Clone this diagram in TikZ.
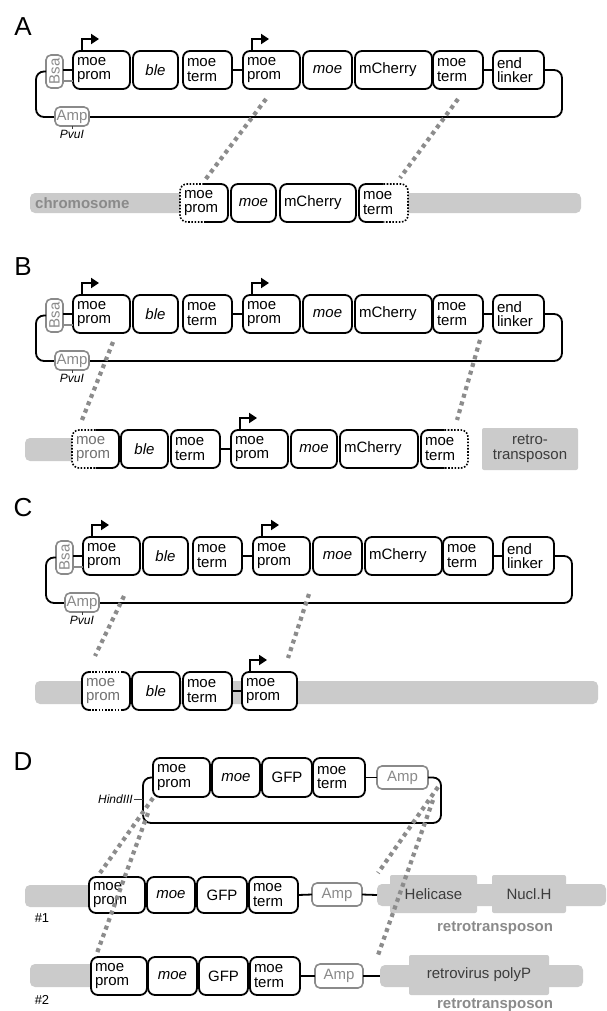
\documentclass[tikz,border=0pt]{standalone}
\usepackage{fontspec}
\setmainfont{Liberation Sans}
\usetikzlibrary{arrows.meta,calc}
\definecolor{gline}{HTML}{8A8A8A}
\definecolor{chromfill}{HTML}{CBCBCB}
\definecolor{dotcol}{HTML}{8C8C8C}
\definecolor{dtext}{HTML}{3C3C3C}
\definecolor{ptext}{HTML}{707070}
\tikzset{
 part/.style={draw=black,line width=1.8pt,rounded corners=7pt,fill=white,inner xsep=3pt,inner ysep=2pt,outer sep=0pt,font=\fontsize{15}{14.5}\selectfont,align=left},
 gpart/.style={draw=gline,text=gline,line width=1.6pt,rounded corners=5pt,fill=white,inner sep=1pt,outer sep=0pt,font=\fontsize{15}{14.5}\selectfont,align=center},
 link/.style={line width=1.8pt,draw=black},
 glink/.style={line width=1.4pt,draw=gline},
 tick/.style={line width=0.9pt,draw=dtext},
 dotcon/.style={draw=dotcol,line width=4.2pt,dash pattern=on 4pt off 4pt},
 dotb/.style={draw=black,line width=1.6pt,dash pattern=on 1.6pt off 1.6pt},
 prarrow/.style={line width=1.8pt,-{Triangle[length=8pt,width=10pt]}},
 panel/.style={font=\fontsize{26}{26}\selectfont,inner sep=0pt},
 small/.style={font=\fontsize{12}{12}\selectfont\itshape,inner sep=1pt},
 bar/.style={fill=chromfill,draw=none,rounded corners=5pt,outer sep=0pt,inner sep=0pt},
 block/.style={fill=chromfill,draw=none,rounded corners=2pt,outer sep=0pt,inner sep=0pt,text=dtext,font=\fontsize{15}{15}\selectfont,align=center},
 glabel/.style={text=gline,font=\fontsize{15}{15}\selectfont\bfseries,inner sep=0pt},
 num/.style={font=\fontsize{13}{13}\selectfont,inner sep=0pt},
}
% part box: [options]{name}{x1}{x2}{y1}{y2}{text}
\newcommand\pbox[7][]{%
 \pgfmathsetmacro\bw{#4-#3}\pgfmathsetmacro\bh{#6-#5}\pgfmathsetmacro\tw{#4-#3-8}%
 \pgfmathsetmacro\cx{(#3+#4)/2}\pgfmathsetmacro\cy{(#5+#6)/2}%
 \node[part,minimum width=\bw pt,minimum height=\bh pt,text width=\tw pt,#1] (#2) at (\cx,\cy) {#7};}
\newcommand\rbox[7][]{%
 \pgfmathsetmacro\bw{#4-#3}\pgfmathsetmacro\bh{#6-#5}%
 \pgfmathsetmacro\cx{(#3+#4)/2}\pgfmathsetmacro\cy{(#5+#6)/2}%
 \node[minimum width=\bw pt,minimum height=\bh pt,#1] (#2) at (\cx,\cy) {#7};}
\newcommand\dotleft[1]{%
 \draw[link,rounded corners=7pt] (#1.north) -| (#1.east) |- (#1.south);
 \draw[dotb,rounded corners=7pt] (#1.north) -| (#1.west) |- (#1.south);}
\newcommand\dotright[1]{%
 \draw[link,rounded corners=7pt] (#1.north) -| (#1.west) |- (#1.south);
 \draw[dotb,rounded corners=7pt] (#1.north) -| (#1.east) |- (#1.south);}
\newcommand\dottopbot[1]{%
 \draw[link,rounded corners=7pt] ($(#1.north west)+(7,0)$) -| (#1.west) |- ($(#1.south west)+(7,0)$);
 \draw[link,rounded corners=7pt] ($(#1.north east)+(-7,0)$) -| (#1.east) |- ($(#1.south east)+(-7,0)$);
 \draw[dotb] ($(#1.north west)+(7,0)$) -- ($(#1.north east)+(-7,0)$);
 \draw[dotb] ($(#1.south west)+(7,0)$) -- ($(#1.south east)+(-7,0)$);}
\newcommand\plasmid[1]{%
 \pbox{#1P1}{73}{130}{51}{89}{moe\\prom}
 \pbox[align=center]{#1B}{133}{178}{51}{89}{\textit{ble}}
 \pbox{#1T1}{183}{232}{51}{89}{moe\\term}
 \pbox{#1P2}{243}{300}{51}{89}{moe\\prom}
 \pbox[align=center]{#1M}{303}{352}{51}{89}{\textit{moe}}
 \pbox{#1C}{355}{432}{51}{89}{mCherry}
 \pbox{#1T2}{433}{483}{51}{89}{moe\\term}
 \pbox{#1E}{493}{544}{51}{89}{end\\linker}
 \rbox[gpart]{#1Bsa}{46}{63}{55}{88}{\rotatebox{90}{Bsa}}
 \draw[link] (#1T1.east) -- (#1P2.west);
 \draw[link] (#1T2.east) -- (#1E.west);
 \draw[link] (#1Bsa.east |- #1P1.west) -- (#1P1.west);
 \draw[glink] ($(#1Bsa.east |- #1P1.west)+(0,11)$) -- ($(#1P1.west)+(0,11)$);
 \draw[link,rounded corners=8pt] (#1E.east) -| (562,117) -| (36,71.5) -- (#1Bsa.west);
 \rbox[gpart]{#1Amp}{55}{89}{107}{126}{Amp}
 \node[small] (#1Pv) at (72,134) {PvuI};
 \draw[tick] (#1Amp.south) -- (#1Pv.north);
 \draw[prarrow] ($(#1P1.north west)+(9,0)$) -- ++(0,-12) -- ++(17,0);
 \draw[prarrow] ($(#1P2.north west)+(9,0)$) -- ++(0,-12) -- ++(17,0);
}
\begin{document}
\begin{tikzpicture}[x=1pt,y=-1pt]
\useasboundingbox (0,0) rectangle (606,1011);
\fill[white] (0,0) rectangle (606,1011);
% ---------------- A
\node[panel] (labA) at (23,27) {A};
\plasmid{a}
\rbox[bar]{aBarL}{30}{200}{193}{213}{}
\rbox[bar]{aBarR}{390}{581}{193}{213}{}
\node[glabel,anchor=west] (aChr) at (35,203) {chromosome};
\pbox[draw=none]{aCP}{180}{228}{184}{222}{moe\\prom}
\dotleft{aCP}
\pbox[align=center]{aCM}{231}{276}{184}{222}{\textit{moe}}
\pbox{aCC}{280}{356}{184}{222}{mCherry}
\pbox[draw=none]{aCT}{359}{408}{184}{222}{moe\\term}
\dotright{aCT}
\coordinate (aD1s) at (266,99); \coordinate (aD1e) at (205,180);
\coordinate (aD2s) at (458,99); \coordinate (aD2e) at (400,178);
\draw[dotcon] (aD1s) -- (aD1e);
\draw[dotcon] (aD2s) -- (aD2e);
% ---------------- B
\node[panel] (labB) at (23,267) {B};
\begin{scope}[shift={(0,244)}]
\plasmid{b}
\end{scope}
\rbox[bar]{bBar}{25}{90}{438}{461}{}
\pbox[draw=none,text=ptext]{bP1}{72}{119}{430}{468}{moe\\prom}
\dotleft{bP1}
\pbox[align=center]{bBl}{121}{168}{430}{468}{\textit{ble}}
\pbox{bT1}{171}{220}{430}{468}{moe\\term}
\pbox{bP2}{231}{288}{430}{468}{moe\\prom}
\pbox[align=center]{bMo}{291}{337}{430}{468}{\textit{moe}}
\pbox{bCh}{340}{418}{430}{468}{mCherry}
\pbox[draw=none]{bT2}{421}{468}{430}{468}{moe\\term}
\dotright{bT2}
\rbox[block]{bRetro}{482}{578}{428}{470}{retro-\\transposon}
\draw[link] (bT1.east) -- (bP2.west);
\draw[prarrow] ($(bP2.north west)+(9,0)$) -- ++(0,-12) -- ++(17,0);
\coordinate (bD1s) at (113,342); \coordinate (bD1e) at (82,420);
\coordinate (bD2s) at (480,340); \coordinate (bD2e) at (457,420);
\draw[dotcon] (bD1s) -- (bD1e);
\draw[dotcon] (bD2s) -- (bD2e);
% ---------------- C
\node[panel] (labC) at (23,508) {C};
\begin{scope}[shift={(10,486)}]
\plasmid{c}
\end{scope}
\rbox[bar]{cBar}{35}{598}{681}{704}{}
\pbox[draw=none,text=ptext]{cP1}{82}{130}{672}{710}{moe\\prom}
\dottopbot{cP1}
\pbox[align=center]{cBl}{132}{180}{672}{710}{\textit{ble}}
\pbox{cT}{183}{232}{672}{710}{moe\\term}
\pbox{cP2}{242}{297}{672}{710}{moe\\prom}
\draw[link] (cT.east) -- (cP2.west);
\draw[prarrow] ($(cP2.north west)+(8,0)$) -- ++(0,-12) -- ++(17,0);
\coordinate (cD1s) at (124,596); \coordinate (cD1e) at (95,656);
\coordinate (cD2s) at (309,594); \coordinate (cD2e) at (288,658);
\draw[dotcon] (cD1s) -- (cD1e);
\draw[dotcon] (cD2s) -- (cD2e);
% ---------------- D
\node[panel] (labD) at (23,762) {D};
\pbox{dP}{153}{210}{758}{797}{moe\\prom}
\pbox[align=center]{dM}{212}{260}{758}{797}{\textit{moe}}
\pbox[align=center]{dG}{262}{312}{758}{797}{GFP}
\pbox{dT}{313}{365}{758}{797}{moe\\term}
\rbox[gpart]{dAmp}{377}{428}{766}{789}{Amp}
\draw[link] (dT.east) -- (dAmp.west);
\draw[link,rounded corners=8pt] (dP.west) -| (143,823) -| (441,777.5) -- (dAmp.east);
\node[small,anchor=east] (hind) at (134,799) {HindIII};
\coordinate (hindT) at (143,799);
\draw[tick] (hind.east) -- (hindT);
% row 1
\rbox[bar]{r1BarL}{25}{100}{885}{907}{}
\pbox{r1P}{89}{145}{877}{913}{moe\\prom}
\pbox[align=center]{r1M}{147}{195}{877}{913}{\textit{moe}}
\pbox[align=center]{r1G}{197}{247}{877}{913}{GFP}
\pbox{r1T}{249}{298}{877}{913}{moe\\term}
\rbox[gpart]{r1Amp}{312}{362}{883}{906}{Amp}
\rbox[bar]{r1Bar}{377}{606}{884}{906}{}
\rbox[block]{r1Hel}{390}{477}{875}{913}{Helicase}
\rbox[block]{r1Nuc}{492}{566}{875}{913}{Nucl.H}
\draw[link] (r1T.east) -- (r1Amp.west);
\draw[link] (r1Amp.east) -- (r1Bar.west);
\node[num] (n1) at (42,918) {\#1};
\node[glabel] (rt1) at (495,928) {retrotransposon};
% row 2
\rbox[bar]{r2BarL}{30}{100}{964}{987}{}
\pbox{r2P}{91}{147}{957}{995}{moe\\prom}
\pbox[align=center]{r2M}{148}{197}{957}{995}{\textit{moe}}
\pbox[align=center]{r2G}{199}{248}{957}{995}{GFP}
\pbox{r2T}{250}{300}{957}{995}{moe\\term}
\rbox[gpart]{r2Amp}{315}{363}{964}{988}{Amp}
\rbox[bar]{r2Bar}{380}{583}{965}{987}{}
\rbox[block]{r2Pol}{409}{549}{955}{995}{retrovirus polyP}
\draw[link] (r2T.east) -- (r2Amp.west);
\draw[link] (r2Amp.east) -- (r2Bar.west);
\node[num] (n2) at (42,1000) {\#2};
\node[glabel] (rt2) at (495,1005) {retrotransposon};
% dotted connectors D
\coordinate (dLa) at (153,798); \coordinate (dLaE) at (100,873);
\coordinate (dLb) at (148,813); \coordinate (dLbE) at (97,953);
\coordinate (dRc) at (438,787); \coordinate (dRcE) at (378,873);
\coordinate (dRd) at (433,800); \coordinate (dRdE) at (377,958);
\draw[dotcon] (dLa) -- (dLaE);
\draw[dotcon] (dLb) -- (dLbE);
\draw[dotcon] (dRc) -- (dRcE);
\draw[dotcon] (dRd) -- (dRdE);
\end{tikzpicture}
\end{document}
